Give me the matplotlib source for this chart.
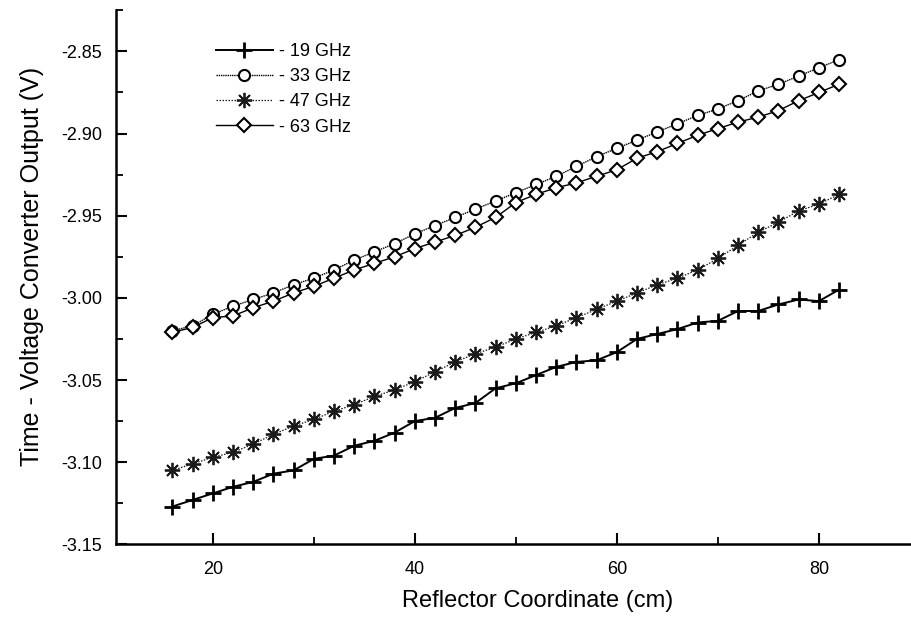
import numpy as np
import matplotlib
matplotlib.use("Agg")
import matplotlib.pyplot as plt
from matplotlib.ticker import MultipleLocator, FormatStrFormatter

plt.rcParams['font.family'] = ['Liberation Sans', 'DejaVu Sans']

# reflector coordinate, cm
coord = [16, 18, 20, 22, 24, 26, 28, 30, 32, 34, 36, 38, 40, 42, 44, 46, 48,
         50, 52, 54, 56, 58, 60, 62, 64, 66, 68, 70, 72, 74, 76, 78, 80, 82]

# converter output, V
v19 = [-3.127, -3.123, -3.119, -3.115, -3.112, -3.107, -3.105, -3.098, -3.096,
       -3.090, -3.087, -3.082, -3.075, -3.073, -3.067, -3.064, -3.055, -3.052,
       -3.047, -3.042, -3.039, -3.038, -3.033, -3.025, -3.022, -3.019, -3.015,
       -3.014, -3.008, -3.008, -3.004, -3.001, -3.002, -2.995]
v33 = [-3.020, -3.017, -3.010, -3.005, -3.001, -2.997, -2.992, -2.988, -2.983,
       -2.977, -2.972, -2.967, -2.961, -2.956, -2.951, -2.946, -2.941, -2.936,
       -2.931, -2.926, -2.920, -2.914, -2.909, -2.904, -2.899, -2.894, -2.889,
       -2.885, -2.880, -2.874, -2.870, -2.865, -2.860, -2.855]
v47 = [-3.105, -3.101, -3.097, -3.094, -3.089, -3.083, -3.078, -3.074, -3.069,
       -3.065, -3.060, -3.056, -3.051, -3.045, -3.039, -3.034, -3.030, -3.025,
       -3.021, -3.017, -3.012, -3.007, -3.002, -2.997, -2.992, -2.988, -2.983,
       -2.976, -2.968, -2.960, -2.954, -2.947, -2.943, -2.937]
v63 = [-3.021, -3.018, -3.012, -3.011, -3.006, -3.002, -2.997, -2.993, -2.988,
       -2.983, -2.979, -2.975, -2.970, -2.966, -2.962, -2.957, -2.951, -2.942,
       -2.937, -2.933, -2.930, -2.926, -2.922, -2.915, -2.911, -2.906, -2.901,
       -2.897, -2.893, -2.890, -2.886, -2.880, -2.875, -2.870]

labels = ['- 19 GHz', '- 33 GHz', '- 47 GHz', '- 63 GHz']

fig = plt.figure(figsize=(9.12, 6.22), dpi=100)
ax = fig.add_axes([0.1272, 0.1249, 0.8728, 0.8585])

ax.plot(coord, v19, color='black', lw=1.4, marker='+', ms=11, mew=2.0,
        label=labels[0])
ax.plot(coord, v33, color='black', lw=1.0, ls=(0, (1, 0.6)), marker='o', ms=8,
        mfc='white', mew=1.5, label=labels[1])
ax.plot(coord, v47, color='#1a1a1a', lw=0.9, ls=(0, (1.2, 1.2)),
        marker=(8, 2, 0), ms=11, mew=1.3, label=labels[2])
ax.plot(coord, v63, color='black', lw=1.0, marker='D', ms=7.5, mfc='white',
        mew=1.5, label=labels[3])

ax.set_xlim(10.41, 89.22)
ax.set_ylim(-3.15, -2.825)

ax.xaxis.set_major_locator(MultipleLocator(20))
ax.xaxis.set_minor_locator(MultipleLocator(10))
ax.yaxis.set_major_locator(MultipleLocator(0.05))
ax.yaxis.set_minor_locator(MultipleLocator(0.025))
ax.yaxis.set_major_formatter(FormatStrFormatter('%.2f'))

for s in ['top', 'right']:
    ax.spines[s].set_visible(False)
for s in ['left', 'bottom']:
    ax.spines[s].set_linewidth(1.8)

ax.tick_params(which='major', direction='in', length=8, width=1.5,
               labelsize=13)
ax.tick_params(which='minor', direction='in', length=5, width=1.3)
ax.tick_params(axis='x', which='major', pad=12)
ax.tick_params(axis='y', which='major', pad=10)

ax.set_xlabel('Reflector Coordinate (cm)', fontsize=17)
ax.xaxis.set_label_coords(0.53, -0.085)
ax.set_ylabel('Time - Voltage Converter Output (V)', fontsize=18)
ax.yaxis.set_label_coords(-0.09, 0.52)

ax.legend(loc='upper left', bbox_to_anchor=(0.116, 0.952), frameon=False,
          fontsize=13, handlelength=3.2, handletextpad=0.3, labelspacing=0.45,
          borderaxespad=0)

fig.savefig('out.png', dpi=100)
